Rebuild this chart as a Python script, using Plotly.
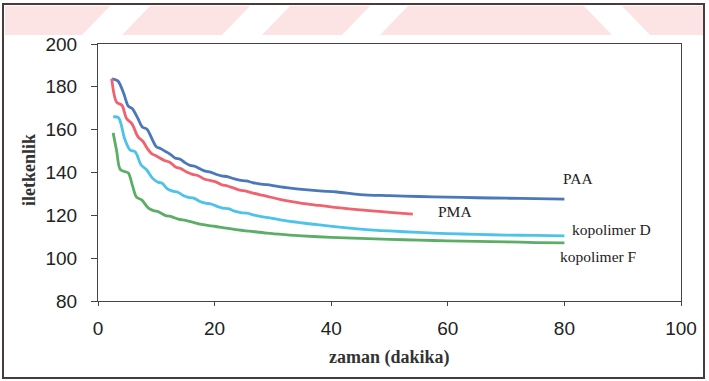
import plotly.graph_objects as go

# ---- data ----
paa_x = [2.4, 3.4, 4.4, 5.2, 5.9, 6.8, 7.6, 8.4, 9.3, 10.0, 10.7, 11.6, 12.4, 13.2, 14.1, 14.9,
         15.8, 16.7, 17.5, 18.4, 19.3, 20.2, 21.2, 22.2, 23.2, 24.3, 25.4, 26.5, 27.7, 29, 31,
         33, 35, 38, 41, 45, 50, 55, 60, 65, 70, 75, 80]
paa_y = [183.7, 182.8, 177, 171, 169.8, 165.5, 161.3, 160.2, 155.5, 152, 151.2, 149.8, 148.5,
         146.8, 146.2, 144.6, 143.3, 142.8, 141.7, 140.6, 140.2, 139.2, 138.4, 138.1, 137.2,
         136.4, 136.1, 135.3, 134.7, 134.3, 133.4, 132.7, 132.1, 131.4, 130.9, 129.7, 129.2,
         128.8, 128.5, 128.2, 128.0, 127.8, 127.6]

pma_x = [2.35, 3.2, 4.1, 4.9, 5.8, 6.9, 7.7, 8.5, 9.2, 10.1, 11.4, 12.3, 13.3, 14.2, 15.2, 16.2,
         17.2, 18.2, 19.2, 20.2, 21.2, 22.2, 23.2, 24.3, 25.4, 26.6, 27.8, 29, 31, 33, 35, 38,
         41, 44, 47, 50, 54]
pma_y = [183.8, 172.8, 171.4, 165.2, 162.8, 156.5, 154.6, 151, 148.8, 147.6, 145.6, 144.8,
         142.6, 141.8, 140.2, 139.1, 138.5, 137.0, 136.3, 135.6, 134.3, 133.7, 132.8, 131.8,
         131.3, 130.4, 129.6, 128.9, 127.6, 126.5, 125.6, 124.6, 123.6, 122.8, 122.1, 121.4,
         120.6]

kd_x = [2.6, 3.5, 4.6, 5.5, 6.4, 7.4, 8.3, 9.3, 10.2, 11.0, 11.9, 12.8, 13.7, 14.6, 15.5, 16.4,
        17.4, 18.4, 19.4, 20.4, 21.4, 22.4, 23.4, 24.5, 25.6, 26.8, 28, 29.5, 31.5, 33.5, 35.5,
        38, 41, 45, 50, 55, 60, 65, 70, 75, 80]
kd_y = [166, 165.6, 155.5, 150.5, 149.6, 143.5, 141.4, 137.5, 135.6, 135, 132.4, 131.3, 130.8,
        129.3, 128.4, 128, 126.6, 125.7, 125.3, 124.2, 123.4, 123.1, 122, 121.3, 121, 120.1,
        119.4, 118.8, 117.8, 117, 116.3, 115.5, 114.6, 113.6, 112.7, 112, 111.5, 111.1, 110.8,
        110.6, 110.4]

kf_x = [2.6, 3.2, 3.8, 4.6, 5.2, 5.9, 6.6, 7.5, 8.6, 9.5, 10.4, 11.5, 12.7, 13.8, 15, 16.2,
        17.5, 18.8, 20, 22, 24, 26, 29, 32, 35, 40, 45, 50, 55, 60, 65, 70, 75, 80]
kf_y = [158.5, 150, 141.5, 140.4, 139.8, 134, 128.5, 127.2, 123.5, 122.2, 121.6, 120, 119.3,
        118.2, 117.6, 116.8, 115.9, 115.3, 114.9, 114, 113.2, 112.6, 111.7, 111, 110.4, 109.7,
        109.2, 108.8, 108.4, 108.1, 107.8, 107.6, 107.3, 107.1]

series_names = ["PAA", "PMA", "kopolimer D", "kopolimer F"]
label_x = [82.3, 61.3, 88.0, 85.8]
label_y = [137.0, 121.6, 113.2, 100.6]

x_ticks = [0, 20, 40, 60, 80, 100]
y_ticks = [80, 100, 120, 140, 160, 180, 200]

colors = ["#4a78b8", "#f0626e", "#4dc3ea", "#5cae66"]

fig = go.Figure()
for name, xs, ys, c in zip(series_names, [paa_x, pma_x, kd_x, kf_x],
                           [paa_y, pma_y, kd_y, kf_y], colors):
    fig.add_trace(go.Scatter(x=xs, y=ys, mode="lines", name=name,
                             line=dict(color=c, width=2.8, shape="spline", smoothing=0.9)))

# plot-area geometry (pixels)
L, R, T, B = 98, 681, 44, 301
W, H = 709, 381
def px(xp):
    return (xp - L) / (R - L)
def py(yp):
    return (B - yp) / (B - T)

shapes = []
# scan watermark band
shapes.append(dict(type="rect", xref="paper", yref="paper", x0=px(5), x1=px(704),
                   y0=py(35), y1=py(6), fillcolor="#fde4e4", line=dict(width=0), layer="below"))
for (a, b) in [(82, 122), (222, 262), (342, 380)]:
    path = "M {} {} L {} {} L {} {} L {} {} Z".format(px(a), py(35), px(b), py(35),
                                                      px(b + 28), py(6), px(a + 28), py(6))
    shapes.append(dict(type="path", xref="paper", yref="paper", path=path,
                       fillcolor="white", line=dict(width=0), layer="below"))
path = "M {} {} L {} {} L {} {} L {} {} Z".format(px(612), py(35), px(650), py(35),
                                                  px(622), py(6), px(584), py(6))
shapes.append(dict(type="path", xref="paper", yref="paper", path=path,
                   fillcolor="white", line=dict(width=0), layer="below"))
# outer frame
shapes.append(dict(type="rect", xref="paper", yref="paper", x0=px(3), x1=px(704),
                   y0=py(378), y1=py(4), line=dict(color="#4a3a3c", width=2),
                   fillcolor="rgba(0,0,0,0)", layer="above"))

annotations = []
for name, lx, ly in zip(series_names, label_x, label_y):
    annotations.append(dict(x=lx, y=ly, xref="x", yref="y", text=name, showarrow=False,
                            xanchor="center", yanchor="middle",
                            font=dict(family="Liberation Serif", size=15.5, color="#222")))
annotations.append(dict(x=0.5, y=py(357), xref="paper", yref="paper", text="<b>zaman (dakika)</b>",
                        showarrow=False, xanchor="center", yanchor="middle",
                        font=dict(family="Liberation Serif", size=18, color="#333")))
annotations.append(dict(x=px(29), y=py(170), xref="paper", yref="paper", text="<b>iletkenlik</b>",
                        textangle=-90, showarrow=False, xanchor="center", yanchor="middle",
                        font=dict(family="Liberation Serif", size=18, color="#333")))

fig.update_layout(
    width=W, height=H,
    margin=dict(l=L, r=W - R, t=T, b=H - B, pad=0),
    paper_bgcolor="white", plot_bgcolor="white",
    showlegend=False,
    shapes=shapes, annotations=annotations,
    font=dict(family="Liberation Sans", size=19, color="#222"),
)
fig.update_xaxes(range=[0, 100], tickvals=x_ticks, showgrid=False, zeroline=False,
                 showline=True, linecolor="#444", linewidth=1, mirror=True,
                 ticks="outside", ticklen=4, tickcolor="#444", ticklabelstandoff=6)
fig.update_yaxes(range=[80, 200], tickvals=y_ticks, showgrid=False, zeroline=False,
                 showline=True, linecolor="#444", linewidth=1, mirror=True,
                 ticks="outside", ticklen=6, tickcolor="#444", ticklabelstandoff=10)

fig.write_html("out.html", config={"displayModeBar": False},
               post_script="document.body.style.margin='0';document.body.style.overflow='hidden';")
